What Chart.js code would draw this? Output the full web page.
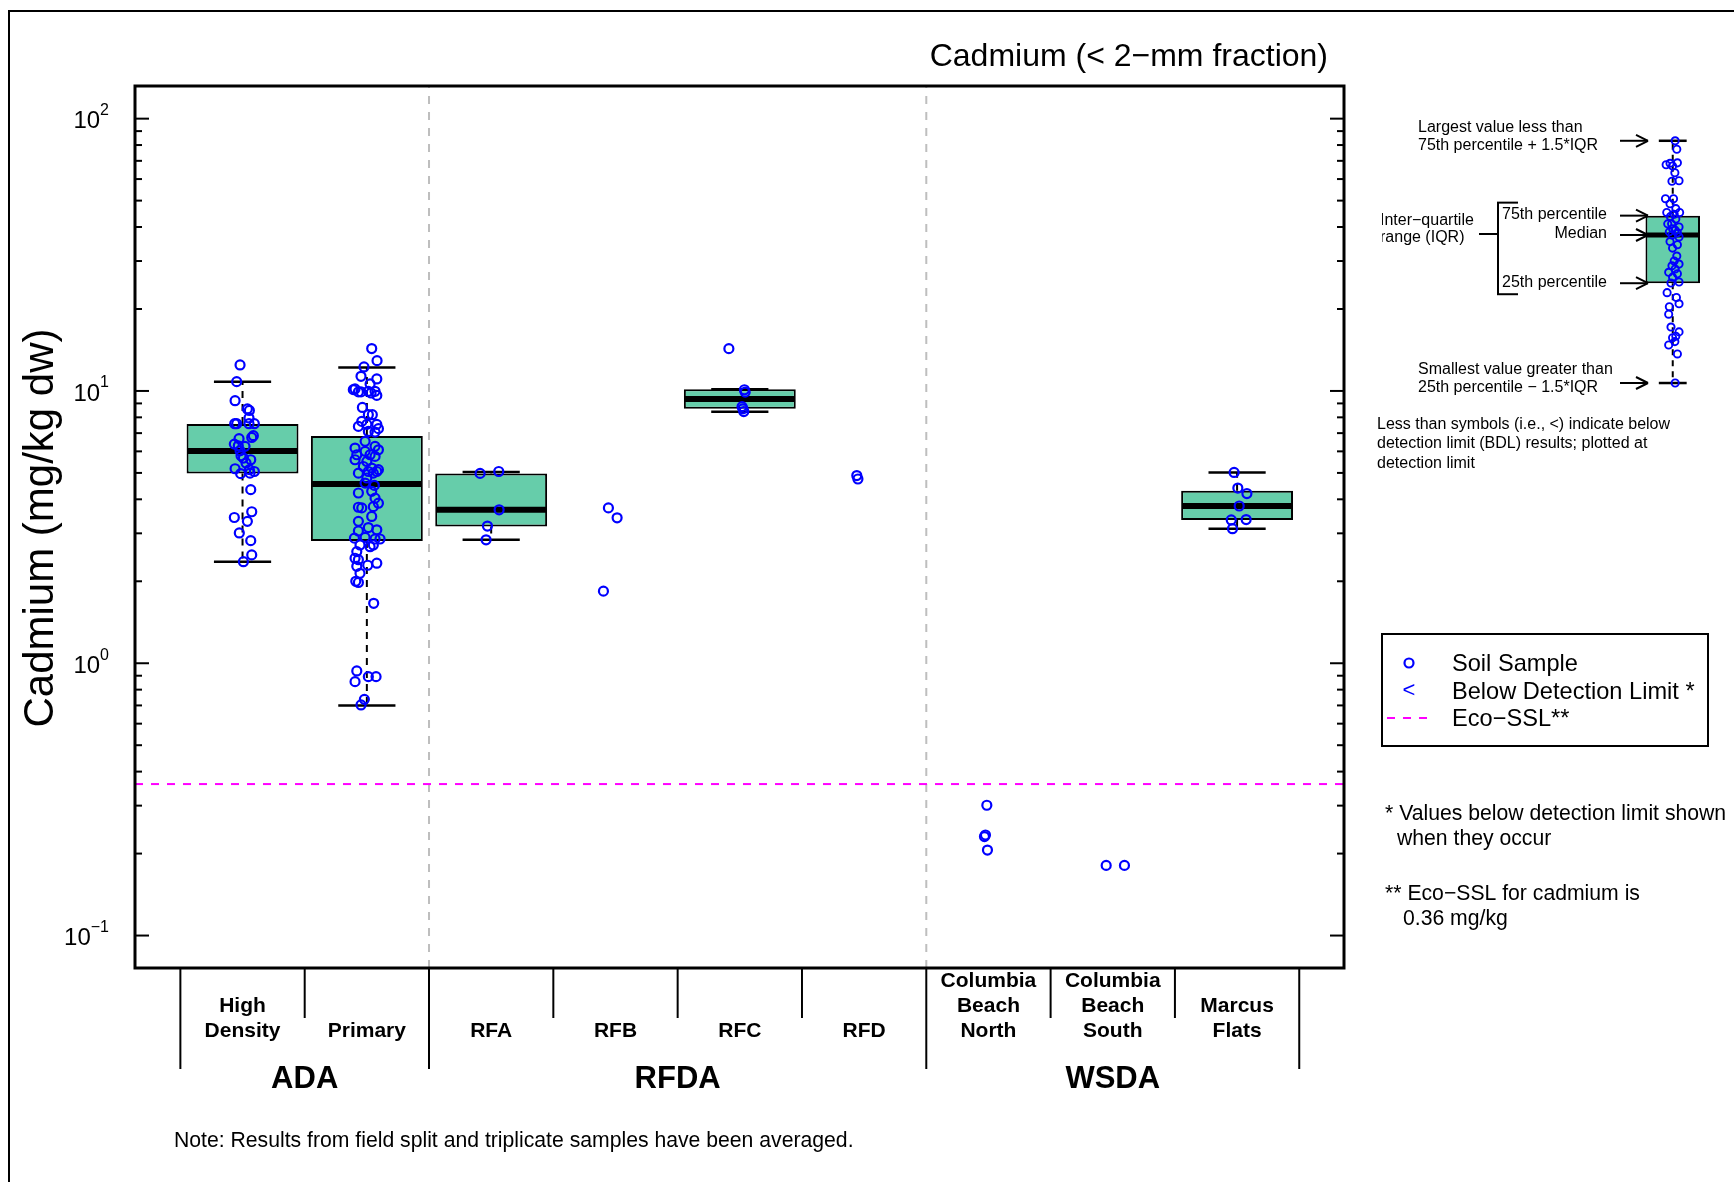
<!DOCTYPE html>
<html>
<head>
<meta charset="utf-8">
<title>Cadmium (&lt; 2-mm fraction)</title>
<script src="https://cdn.jsdelivr.net/npm/chart.js@4.4.1/dist/chart.umd.min.js"></script>
<style>
  html, body { margin: 0; padding: 0; background: #fff; }
  #wrap { position: relative; width: 1734px; height: 1182px; overflow: hidden; }
  #main { position: absolute; left: 0; top: 0; }
  #inset { position: absolute; left: 1370px; top: 100px; }
</style>
</head>
<body>
<div id="wrap">
  <canvas id="main" width="1734" height="1182"></canvas>
  <canvas id="inset" width="364" height="380"></canvas>
</div>
<script>
// ---- data ----
const categories = [['High', 'Density'], ['Primary'], ['RFA'], ['RFB'], ['RFC'], ['RFD'],
  ['Columbia', 'Beach', 'North'], ['Columbia', 'Beach', 'South'], ['Marcus', 'Flats']];
const groups = ['ADA', 'RFDA', 'WSDA'];
const groupFirst = [1, 3, 7];
const groupLast = [2, 6, 9];

// box statistics (mg/kg dw), null = no box drawn
const whiskerLow  = [2.36, 0.70, 2.84, null, 8.39, null, null, null, 3.12];
const quart1      = [4.98, 2.81, 3.18, null, 8.61, null, null, null, 3.36];
const median      = [6.02, 4.55, 3.66, null, 9.35, null, null, null, 3.78];
const quart3      = [7.56, 6.83, 4.98, null, 10.14, null, null, null, 4.30];
const whiskerHigh = [10.8, 12.2, 5.04, null, 10.14, null, null, null, 5.02];

// soil samples per category
const sampleValues = [
  [12.46, 10.82, 9.21, 8.59, 8.48, 7.96, 7.58, 7.58, 7.58, 7.58, 6.85, 6.75, 6.68, 6.38, 6.29, 6.26,
   6.03, 5.78, 5.67, 5.59, 5.44, 5.18, 4.97, 5.14, 5.06, 4.99, 4.34, 3.60, 3.43, 3.32, 3.01, 2.82, 2.50, 2.36],
  [14.31, 12.92, 12.25, 11.07, 11.32, 10.61, 10.17, 10.11, 9.92, 9.92,
   9.97, 9.97, 9.63, 9.83, 8.70, 8.18, 8.18, 7.73, 7.41, 7.54,
   7.54, 7.27, 7.10, 7.06, 6.53, 6.17, 6.26, 6.08, 6.00, 5.83,
   5.83, 5.75, 5.59, 5.51, 5.28, 5.21, 5.14, 5.06, 5.06, 4.99,
   4.99, 4.79, 4.59, 4.50, 4.22, 4.28, 4.04, 3.87, 3.76, 3.72,
   3.74, 3.46, 3.32, 3.15, 3.06, 3.09, 2.88, 2.90, 2.86, 2.86,
   2.72, 2.68, 2.72, 2.57, 2.43, 2.40, 2.29, 2.33, 2.27, 2.14,
   2.00, 1.98, 1.66, 0.937, 0.856, 0.893, 0.893, 0.737, 0.703],
  [4.98, 5.06, 3.66, 3.19, 2.84],
  [3.72, 3.42, 1.84],
  [14.3, 10.1, 9.9, 8.76, 8.6, 8.4],
  [4.89, 4.75],
  [0.301, 0.234, 0.231, 0.206],
  [0.181, 0.181],
  [5.02, 4.40, 4.20, 3.78, 3.36, 3.37, 3.12]
];
// horizontal jitter (category units) as plotted
const sampleJitter = [
  [-0.020, -0.047, -0.060, 0.039, 0.055, 0.052, -0.063, -0.047, 0.052, 0.095, 0.087, 0.074, -0.028, -0.066, -0.034, 0.020,
   -0.020, -0.012, 0.007, 0.066, 0.028, -0.060, -0.015, 0.055, 0.095, 0.060, 0.066, 0.074, -0.066, 0.039, -0.026, 0.066, 0.074, 0.007],
  [0.039, 0.082, -0.023, 0.080, -0.047, 0.026, -0.095, -0.109, -0.068, -0.047,
   0.012, 0.066, 0.080, 0.034, -0.036, 0.012, 0.044, -0.041, -0.068, 0.000,
   0.080, 0.093, 0.012, 0.066, -0.014, -0.095, 0.066, 0.093, -0.014, -0.081,
   0.026, 0.066, -0.095, 0.000, -0.028, 0.039, 0.093, 0.080, 0.012, -0.068,
   0.052, 0.000, -0.014, 0.060, -0.068, 0.039, 0.066, 0.093, 0.052, -0.041,
   -0.068, 0.039, -0.068, 0.012, -0.068, 0.080, -0.100, -0.014, 0.066, 0.106,
   -0.055, 0.026, 0.052, -0.081, -0.095, -0.068, 0.007, 0.080, -0.081, -0.055,
   -0.089, -0.068, 0.055, -0.081, -0.095, 0.012, 0.074, -0.020, -0.047],
  [-0.089, 0.061, 0.064, -0.030, -0.041],
  [-0.057, 0.013, -0.097],
  [-0.088, 0.037, 0.043, 0.018, 0.025, 0.032],
  [-0.059, -0.050],
  [-0.013, -0.024, -0.032, -0.008],
  [-0.053, 0.094],
  [-0.024, 0.006, 0.079, 0.017, -0.047, 0.073, -0.037]
];

const ecoSSL = 0.36;
const tickDecades = [-1, 0, 1, 2];

// explanatory box plot (arbitrary units)
const insetValues = [100.0, 96.5, 90.1, 90.7, 90.9, 89.6, 86.8, 83.3, 83.5, 76.1, 76.1, 74.0, 72.0, 70.4, 69.7, 70.4,
  68.7, 67.7, 65.7, 65.7, 64.4, 63.7, 63.1, 62.4, 62.0, 61.1, 60.3, 58.4, 57.1, 55.7, 52.4, 50.4, 49.1, 48.4, 47.1,
  45.7, 45.1, 43.7, 41.7, 41.3, 37.3, 35.3, 32.7, 31.5, 28.4, 23.1, 21.1, 19.3, 18.7, 15.7, 17.1, 12.0, 0.0];
const insetJitter = [0.040, 0.067, -0.109, -0.045, 0.077, -0.003, 0.035, -0.013, 0.104, -0.120, 0.013, -0.045, 0.051,
  -0.099, 0.024, 0.114, -0.040, 0.051, -0.083, -0.019, 0.104, -0.003, 0.040, -0.056, 0.077, -0.013, 0.104, -0.045,
  0.077, -0.003, 0.067, 0.024, 0.104, -0.013, 0.040, -0.067, 0.077, -0.003, 0.104, -0.029, -0.093, 0.061, 0.104,
  -0.056, -0.067, -0.029, 0.104, 0.051, -0.003, -0.067, 0.035, 0.077, 0.040];
const insetLow = 0, insetQ1 = 41.2, insetMed = 61.1, insetQ3 = 69.1, insetHigh = 100;

// ---- helpers ----
const FONT = '"Liberation Sans", Arial, Helvetica, sans-serif';
const BOX_FILL = '#66CDAA';
const BLUE = '#0000FF';

function txt(ctx, s, x, y, size, opt) {
  opt = opt || {};
  ctx.save();
  ctx.font = (opt.bold ? 'bold ' : '') + size + 'px ' + FONT;
  ctx.fillStyle = opt.color || '#000';
  ctx.textAlign = opt.align || 'left';
  ctx.textBaseline = 'middle';
  ctx.fillText(s, x, y);
  ctx.restore();
}
function seg(ctx, x1, y1, x2, y2, w, dash) {
  ctx.save();
  ctx.strokeStyle = '#000';
  ctx.lineWidth = w;
  ctx.setLineDash(dash || []);
  ctx.beginPath();
  ctx.moveTo(x1, y1);
  ctx.lineTo(x2, y2);
  ctx.stroke();
  ctx.restore();
}
function arrow(ctx, x1, x2, y) {
  seg(ctx, x1, y, x2, y, 2);
  seg(ctx, x2 - 12, y - 6, x2, y, 2);
  seg(ctx, x2 - 12, y + 6, x2, y, 2);
}

// draws median, whiskers and staples on top of a bar (box) dataset
function drawBoxExtras(chart, meta, stats, capUnits, medW, dash) {
  const ctx = chart.ctx, xs = chart.scales.x, ys = chart.scales.y;
  meta.data.forEach((bar, j) => {
    const s = stats[j];
    const x = bar.x, half = bar.width / 2;
    const cap = xs.getPixelForValue(s.x + capUnits) - xs.getPixelForValue(s.x);
    const yq1 = ys.getPixelForValue(s.q1), yq3 = ys.getPixelForValue(s.q3);
    const ylo = ys.getPixelForValue(s.lo), yhi = ys.getPixelForValue(s.hi);
    if (yhi < yq3 - 1) seg(ctx, x, yq3, x, yhi, 2, dash);
    if (ylo > yq1 + 1) seg(ctx, x, yq1, x, ylo, 2, dash);
    seg(ctx, x - cap, yhi, x + cap, yhi, 2.5);
    seg(ctx, x - cap, ylo, x + cap, ylo, 2.5);
    seg(ctx, x - half + 1, ys.getPixelForValue(s.med), x + half - 1, ys.getPixelForValue(s.med), medW);
  });
}

// ---- main chart ----
const X_MIN = 0.135, X_MAX = 9.86;
const Y_MIN = 0.076, Y_MAX = 131.8;

const points = [];
sampleValues.forEach((vals, i) => {
  vals.forEach((v, j) => points.push({ x: i + 1 + sampleJitter[i][j], y: v }));
});
const boxStats = [];
const boxData = [];
median.forEach((m, i) => {
  if (m == null) return;
  boxStats.push({ x: i + 1, lo: whiskerLow[i], q1: quart1[i], med: m, q3: quart3[i], hi: whiskerHigh[i] });
  boxData.push({ x: i + 1, y: [quart1[i], quart3[i]] });
});
const dividers = groupLast.slice(0, -1).map(g => g + 0.5);

const mainDecor = {
  id: 'mainDecor',
  afterDatasetDraw(chart, args) {
    if (args.meta.type !== 'bar') return;
    drawBoxExtras(chart, args.meta, boxStats, 0.23, 6, [7, 6]);
  },
  afterDraw(chart) {
    const ctx = chart.ctx, a = chart.chartArea;
    const xs = chart.scales.x, ys = chart.scales.y;

    // outer figure border
    ctx.save();
    ctx.strokeStyle = '#000'; ctx.lineWidth = 2;
    ctx.strokeRect(9, 11, 1760, 1200);
    // plot frame
    ctx.lineWidth = 3;
    ctx.strokeRect(a.left, a.top, a.right - a.left, a.bottom - a.top);
    ctx.restore();

    // log axis ticks (inward, both sides) and labels
    tickDecades.forEach((k, n) => {
      const last = n === tickDecades.length - 1;
      for (let m = 1; m <= (last ? 1 : 9); m++) {
        const y = ys.getPixelForValue(m * Math.pow(10, k));
        const len = m === 1 ? 14 : 7;
        seg(ctx, a.left, y, a.left + len, y, 2);
        seg(ctx, a.right - len, y, a.right, y, 2);
      }
      const y = ys.getPixelForValue(Math.pow(10, k));
      const exp = k < 0 ? '\u2212' + (-k) : String(k);
      ctx.save();
      ctx.font = '16px ' + FONT;
      const we = ctx.measureText(exp).width;
      ctx.font = '24px ' + FONT;
      const wb = ctx.measureText('10').width;
      ctx.restore();
      const right = a.left - 26;
      txt(ctx, '10', right - we - wb, y + 3, 24);
      txt(ctx, exp, right - we, y - 8, 16);
    });

    // y axis title
    ctx.save();
    ctx.translate(41, (a.top + a.bottom) / 2 + 1);
    ctx.rotate(-Math.PI / 2);
    txt(ctx, 'Cadmium (mg/kg dw)', 0, 0, 42, { align: 'center' });
    ctx.restore();

    // title
    txt(ctx, 'Cadmium (< 2\u2212mm fraction)', a.right - 16, 57, 32, { align: 'right' });

    // category separators below the axis
    for (let b = 0; b <= categories.length; b++) {
      const xv = b + 0.5;
      const x = xs.getPixelForValue(xv);
      const long = groupFirst.some(g => g - 0.5 === xv) || groupLast.some(g => g + 0.5 === xv);
      seg(ctx, x, a.bottom, x, a.bottom + (long ? 101 : 50), 2);
    }
    // category labels
    categories.forEach((lines, i) => {
      const x = xs.getPixelForValue(i + 1);
      lines.forEach((ln, li) => {
        txt(ctx, ln, x, a.bottom + 63 - (lines.length - 1 - li) * 25, 21, { bold: true, align: 'center' });
      });
    });
    // group labels
    groups.forEach((g, gi) => {
      const x = xs.getPixelForValue((groupFirst[gi] + groupLast[gi]) / 2);
      txt(ctx, g, x, a.bottom + 111, 31, { bold: true, align: 'center' });
    });

    txt(ctx, 'Note: Results from field split and triplicate samples have been averaged.', 174, 1141, 21.2);

    // legend
    ctx.save();
    ctx.strokeStyle = '#000'; ctx.lineWidth = 2;
    ctx.strokeRect(1382, 634, 326, 112);
    ctx.strokeStyle = BLUE; ctx.lineWidth = 2.2;
    ctx.beginPath(); ctx.arc(1409, 663, 4.5, 0, Math.PI * 2); ctx.stroke();
    ctx.strokeStyle = '#FF00FF'; ctx.lineWidth = 2; ctx.setLineDash([8, 8]);
    ctx.beginPath(); ctx.moveTo(1387, 718); ctx.lineTo(1430, 718); ctx.stroke();
    ctx.restore();
    txt(ctx, '<', 1409, 691, 22, { color: BLUE, align: 'center' });
    txt(ctx, 'Soil Sample', 1452, 664, 23.6);
    txt(ctx, 'Below Detection Limit *', 1452, 692, 23.6);
    txt(ctx, 'Eco\u2212SSL**', 1452, 719, 23.6);

    // footnotes
    txt(ctx, '* Values below detection limit shown', 1385, 814, 21.2);
    txt(ctx, 'when they occur', 1397, 839, 21.2);
    txt(ctx, '** Eco\u2212SSL for cadmium is', 1385, 894, 21.2);
    txt(ctx, '0.36 mg/kg', 1403, 919, 21.2);
  }
};

new Chart(document.getElementById('main'), {
  type: 'bar',
  data: {
    datasets: [
      {
        type: 'scatter', data: points, order: 0,
        pointRadius: 4.5, pointBorderWidth: 2.2,
        borderColor: BLUE, backgroundColor: 'rgba(0,0,0,0)',
        pointBorderColor: BLUE, pointBackgroundColor: 'rgba(0,0,0,0)'
      },
      {
        type: 'bar', data: boxData, order: 1,
        backgroundColor: BOX_FILL, borderColor: '#000', borderWidth: 2, borderSkipped: false,
        barPercentage: 0.9, categoryPercentage: 1.0
      },
      {
        type: 'line', order: 2, data: [{ x: X_MIN, y: ecoSSL }, { x: X_MAX, y: ecoSSL }],
        borderColor: '#FF00FF', borderWidth: 2, borderDash: [8, 8], pointRadius: 0
      },
      ...dividers.map(d => ({
        type: 'line', order: 3, data: [{ x: d, y: Y_MIN }, { x: d, y: Y_MAX }],
        borderColor: '#BEBEBE', borderWidth: 2, borderDash: [8, 8], pointRadius: 0
      }))
    ]
  },
  options: {
    responsive: false,
    animation: false,
    events: [],
    layout: { padding: { left: 135, top: 86, right: 390, bottom: 214 } },
    plugins: { legend: { display: false }, tooltip: { enabled: false } },
    scales: {
      x: {
        type: 'linear', min: X_MIN, max: X_MAX, display: false, offset: false,
        afterBuildTicks: s => { s.ticks = categories.map((c, i) => ({ value: i + 1 })); }
      },
      y: { type: 'logarithmic', min: Y_MIN, max: Y_MAX, display: false }
    }
  },
  plugins: [mainDecor]
});

// ---- explanatory inset box plot ----
const insetPoints = insetValues.map((v, j) => ({ x: 1 + insetJitter[j], y: v }));
const insetStats = [{ x: 1, lo: insetLow, q1: insetQ1, med: insetMed, q3: insetQ3, hi: insetHigh }];

const insetDecor = {
  id: 'insetDecor',
  afterDatasetDraw(chart, args) {
    if (args.meta.type !== 'bar') return;
    drawBoxExtras(chart, args.meta, insetStats, 0.23, 5, [6, 5]);
  },
  afterDraw(chart) {
    const ctx = chart.ctx, ys = chart.scales.y;
    const yHi = ys.getPixelForValue(insetHigh), yQ3 = ys.getPixelForValue(insetQ3);
    const yMed = ys.getPixelForValue(insetMed), yQ1 = ys.getPixelForValue(insetQ1);
    const yLo = ys.getPixelForValue(insetLow);
    [yHi, yQ3, yMed, yQ1, yLo].forEach(y => arrow(ctx, 250, 278, y));

    txt(ctx, 'Largest value less than', 48, yHi - 13, 16);
    txt(ctx, '75th percentile + 1.5*IQR', 48, yHi + 5, 16);
    txt(ctx, '75th percentile', 237, yQ3 - 1, 16, { align: 'right' });
    txt(ctx, 'Median', 237, yMed - 1, 16, { align: 'right' });
    txt(ctx, '25th percentile', 237, yQ1 - 1, 16, { align: 'right' });
    txt(ctx, 'Smallest value greater than', 48, yLo - 13, 16);
    txt(ctx, '25th percentile \u2212 1.5*IQR', 48, yLo + 5, 16);

    // IQR bracket
    seg(ctx, 128, yQ3 - 13, 128, yQ1 + 11, 2);
    seg(ctx, 127, yQ3 - 13, 148, yQ3 - 13, 2);
    seg(ctx, 127, yQ1 + 11, 148, yQ1 + 11, 2);
    seg(ctx, 109, 134, 128, 134, 2);
    ctx.save();
    ctx.beginPath(); ctx.rect(12, 0, 200, 380); ctx.clip();
    txt(ctx, 'Inter\u2212quartile', 10, 121, 16);
    txt(ctx, 'range (IQR)', 10, 138, 16);
    ctx.restore();

    txt(ctx, 'Less than symbols (i.e., <) indicate below', 7, 325, 16);
    txt(ctx, 'detection limit (BDL) results; plotted at', 7, 344, 16);
    txt(ctx, 'detection limit', 7, 364, 16);
  }
};

new Chart(document.getElementById('inset'), {
  type: 'bar',
  data: {
    datasets: [
      {
        type: 'scatter', data: insetPoints, order: 0,
        pointRadius: 3.6, pointBorderWidth: 1.9,
        borderColor: BLUE, backgroundColor: 'rgba(0,0,0,0)',
        pointBorderColor: BLUE, pointBackgroundColor: 'rgba(0,0,0,0)'
      },
      {
        type: 'bar', data: [{ x: 1, y: [insetQ1, insetQ3] }], order: 1,
        backgroundColor: BOX_FILL, borderColor: '#000', borderWidth: 2, borderSkipped: false,
        barPercentage: 0.9, categoryPercentage: 1.0
      }
    ]
  },
  options: {
    responsive: false,
    animation: false,
    events: [],
    layout: { padding: 0 },
    plugins: { legend: { display: false }, tooltip: { enabled: false } },
    scales: {
      x: {
        type: 'linear', min: -3.901, max: 1.914, display: false, offset: false,
        afterBuildTicks: s => { s.ticks = [{ value: 0 }, { value: 1 }]; }
      },
      y: { type: 'linear', min: -37.6, max: 114.4, display: false }
    }
  },
  plugins: [insetDecor]
});
</script>
</body>
</html>
